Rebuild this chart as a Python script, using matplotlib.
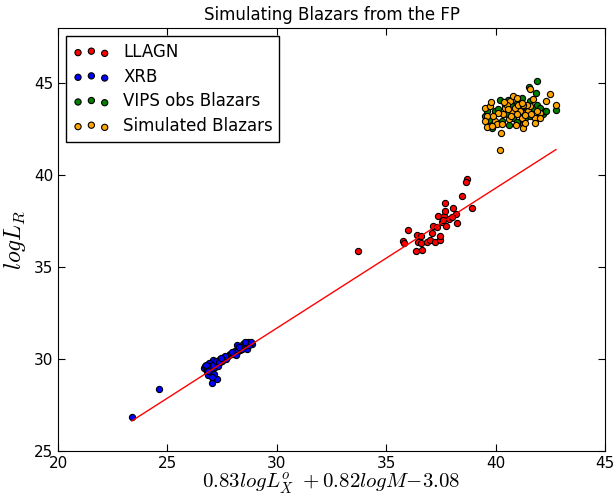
import matplotlib
matplotlib.use("Agg")
import matplotlib.pyplot as plt
import numpy as np

plt.rcParams["mathtext.fontset"] = "cm"

# LLAGN (red)
llagn_x = [33.73, 35.78, 35.81, 36.01, 36.39, 36.36, 36.64, 36.47, 36.58, 36.58,
           36.88, 37.00, 37.08, 37.23, 37.46, 37.46, 37.12, 37.31, 37.38, 37.53,
           37.64, 37.73, 37.70, 37.70, 37.86, 38.07, 38.19, 38.22, 38.45, 38.68,
           38.65, 38.91, 37.99, 37.61]
llagn_y = [35.89, 36.40, 36.29, 37.02, 36.76, 35.86, 35.93, 36.34, 36.71, 36.29,
           36.34, 36.47, 36.83, 36.38, 36.47, 36.71, 37.25, 37.16, 37.79, 37.43,
           37.79, 37.21, 38.06, 38.46, 37.61, 38.19, 37.88, 37.38, 38.88, 39.78,
           39.63, 38.19, 37.70, 37.56]

# XRB (blue)
xrb_x = [23.37, 24.63, 26.67, 26.79, 26.95, 27.10, 27.02, 27.18, 27.33, 27.40,
         27.56, 27.71, 27.86, 28.01, 28.17, 28.47, 28.70, 28.85, 28.62, 28.32,
         26.95, 27.10, 27.25, 27.02, 26.87, 26.70, 26.80, 26.90, 27.00, 27.10,
         27.20, 27.30, 27.40, 27.50, 27.60, 27.70, 27.80, 27.90, 28.00, 28.10,
         28.20, 28.30, 28.40, 28.50, 28.60, 28.75, 28.80, 27.15, 27.05, 26.85,
         26.75, 27.35, 27.65, 27.95, 28.25, 28.55, 28.15, 27.45]
xrb_y = [26.86, 28.38, 29.50, 29.30, 29.75, 29.93, 29.39, 29.57, 29.75, 29.84,
         30.02, 30.11, 30.30, 30.38, 30.75, 30.84, 30.92, 30.84, 30.57, 30.47,
         29.12, 28.85, 28.94, 28.70, 29.12, 29.60, 29.40, 29.80, 29.60, 29.70,
         29.90, 29.60, 30.00, 29.90, 30.10, 30.00, 30.20, 30.25, 30.30, 30.45,
         30.40, 30.60, 30.55, 30.70, 30.80, 30.75, 30.90, 29.20, 29.00, 29.35,
         29.70, 29.85, 30.15, 30.40, 30.65, 30.90, 30.20, 30.05]

# VIPS observed blazars (green)
vips_x = [39.59, 39.82, 39.97, 40.43, 40.58, 40.96, 41.11, 41.27, 41.34, 41.57,
          41.72, 41.88, 42.03, 42.18, 42.26, 40.81, 40.28, 41.57, 40.51, 40.74,
          41.88, 41.54, 41.85, 42.76, 42.30, 39.70, 40.10, 40.90, 41.00, 41.45,
          40.60, 39.50, 41.95, 40.20, 41.20]
vips_y = [43.48, 42.58, 43.48, 43.84, 44.06, 43.93, 43.57, 42.76, 43.12, 44.02,
          43.66, 43.84, 43.66, 43.30, 43.48, 43.12, 42.94, 43.21, 43.30, 43.75,
          45.10, 44.78, 44.47, 43.54, 43.48, 43.00, 43.60, 43.40, 42.90, 43.60,
          42.70, 43.20, 43.10, 44.10, 44.20]

# Simulated blazars (orange)
sim_x = [39.52, 39.74, 39.59, 39.52, 39.59, 39.97, 40.05, 40.28, 40.23, 40.35,
         40.43, 40.66, 40.81, 40.96, 40.63, 40.74, 41.11, 41.19, 41.27, 41.34,
         41.49, 41.57, 41.72, 41.80, 41.80, 42.03, 42.03, 41.42, 40.89, 40.51,
         40.12, 39.90, 39.82, 41.04, 41.27, 41.19, 40.20, 41.57, 42.49, 42.76,
         42.30, 40.70, 41.00, 40.40, 41.60, 39.80, 40.95, 41.35, 40.55, 41.90]
sim_y = [43.66, 43.75, 43.21, 42.94, 42.62, 42.94, 42.76, 42.79, 42.31, 43.30,
         43.66, 44.02, 44.30, 44.20, 43.03, 43.48, 43.48, 43.12, 42.58, 42.85,
         43.48, 43.75, 44.12, 43.12, 42.85, 43.39, 43.12, 43.84, 43.66, 43.84,
         43.39, 43.21, 42.67, 43.84, 43.84, 43.93, 41.35, 44.66, 44.39, 43.84,
         44.02, 43.20, 43.30, 44.00, 43.35, 43.95, 42.70, 43.25, 43.60, 43.50]

# linear fit of the fundamental plane
fit_slope = 0.761
fit_intercept = 8.85

fig = plt.figure(figsize=(6.16, 4.95), dpi=100)
ax = fig.add_axes([0.0942, 0.0889, 0.8879, 0.8545])

kw = dict(s=20, edgecolors="k", linewidths=0.8, zorder=3)
ax.scatter(llagn_x, llagn_y, c="red", label="LLAGN", **kw)
ax.scatter(xrb_x, xrb_y, c="blue", label="XRB", **kw)
ax.scatter(vips_x, vips_y, c="green", label="VIPS obs Blazars", **kw)
ax.scatter(sim_x, sim_y, c="orange", label="Simulated Blazars", **kw)

all_x = np.concatenate([llagn_x, xrb_x, vips_x, sim_x])
xs = np.array([all_x.min(), all_x.max()])
ax.plot(xs, fit_slope * xs + fit_intercept, color="red", linewidth=1, zorder=4)

ax.set_xlim(20, 45)
ax.set_ylim(25, 48)
ax.set_xticks([20, 25, 30, 35, 40, 45])
ax.set_yticks([25, 30, 35, 40, 45])
ax.tick_params(direction="in", top=True, right=True, labelsize=11, length=5)

ax.set_title("Simulating Blazars from the FP", fontsize=12)
ax.set_xlabel(r"$0.83logL_X^o\ +0.82logM{-}3.08$", fontsize=15, labelpad=0)
ax.set_ylabel(r"$logL_R$", fontsize=17)

leg = ax.legend(loc="upper left", scatterpoints=3, fontsize=12, fancybox=False,
                framealpha=1, edgecolor="k", borderaxespad=0.5,
                labelspacing=0.4, handlelength=2.2)
leg.get_frame().set_linewidth(1)

fig.savefig("out.png", dpi=100)
